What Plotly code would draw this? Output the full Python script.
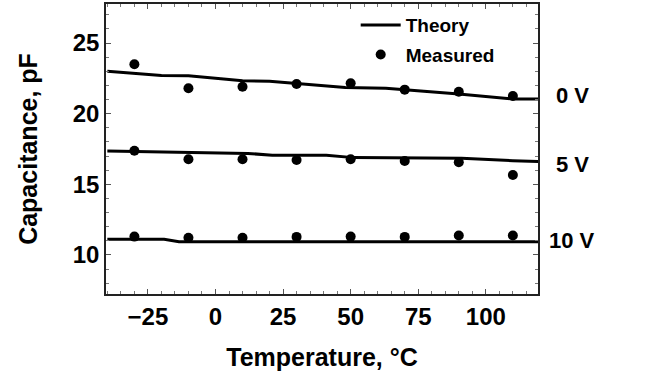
import plotly.graph_objects as go

# ---- data ----
temps_measured = [-30, -10, 10, 30, 50, 70, 90, 110]
meas_0v = [23.5, 21.8, 21.9, 22.1, 22.15, 21.7, 21.55, 21.25]
meas_5v = [17.38, 16.77, 16.77, 16.72, 16.77, 16.65, 16.56, 15.66]
meas_10v = [11.3, 11.22, 11.22, 11.28, 11.3, 11.28, 11.38, 11.38]

theory_x_0v = [-40, -20, -10, 10, 20, 48, 63, 90, 110, 120]
theory_0v = [23.0, 22.7, 22.68, 22.33, 22.3, 21.86, 21.8, 21.4, 21.04, 21.04]
theory_x_5v = [-40, -10, 12, 21, 41, 51, 91, 110, 120]
theory_5v = [17.36, 17.24, 17.19, 17.05, 17.05, 16.89, 16.84, 16.67, 16.62]
theory_x_10v = [-40, -19, -13.5, 120]
theory_10v = [11.11, 11.11, 10.94, 10.94]

bias_labels = ["0 V", "5 V", "10 V"]
bias_label_y = [21.32, 16.37, 11.06]

x_ticks = [-25, 0, 25, 50, 75, 100]
x_ticktext = ["\u221225", "0", "25", "50", "75", "100"]
y_ticks = [10, 15, 20, 25]

FONT = "Liberation Sans, Arial, sans-serif"

fig = go.Figure()
theories = [(theory_x_0v, theory_0v), (theory_x_5v, theory_5v), (theory_x_10v, theory_10v)]
for i, (tx, ty) in enumerate(theories):
    fig.add_trace(go.Scatter(
        x=tx, y=ty, mode="lines", name="Theory",
        line=dict(color="black", width=3),
        showlegend=(i == 0), legendgroup="theory",
    ))
for i, my in enumerate([meas_0v, meas_5v, meas_10v]):
    fig.add_trace(go.Scatter(
        x=temps_measured, y=my, mode="markers", name="Measured",
        marker=dict(color="black", size=10),
        showlegend=(i == 0), legendgroup="meas",
    ))

for txt, yv in zip(bias_labels, bias_label_y):
    fig.add_annotation(
        x=1.079, xref="paper", y=yv, yref="y", text=txt, showarrow=False,
        xanchor="center", yanchor="middle",
        font=dict(family=FONT, size=22, color="black", weight="bold"),
    )

axis_common = dict(
    showline=True, linecolor="#222", linewidth=1.5, mirror="ticks",
    ticks="inside", ticklen=5, tickwidth=1, tickcolor="#555",
    showgrid=False, zeroline=False, automargin=False,
    tickfont=dict(family=FONT, size=24, color="black", weight="bold"),
)

fig.update_xaxes(
    range=[-40.5, 119.3], tickvals=x_ticks, ticktext=x_ticktext,
    title=dict(text="Temperature, \u00b0C", standoff=20,
               font=dict(family=FONT, size=25, color="black", weight="bold")),
    minor=dict(dtick=5, tick0=0, ticks="inside", ticklen=3, tickcolor="#777", showgrid=False),
    **axis_common,
)
fig.update_yaxes(
    range=[7.24, 27.76], tickvals=y_ticks,
    title=dict(text="Capacitance, pF", standoff=28,
               font=dict(family=FONT, size=25, color="black", weight="bold")),
    minor=dict(dtick=1, tick0=0, ticks="inside", ticklen=3, tickcolor="#777", showgrid=False),
    **axis_common,
)

fig.update_layout(
    template="plotly_white",
    width=668, height=375,
    margin=dict(l=106, r=130, t=4, b=81, autoexpand=False),
    plot_bgcolor="white", paper_bgcolor="white",
    legend=dict(
        x=0.578, y=0.993, xanchor="left", yanchor="top",
        bgcolor="rgba(0,0,0,0)", itemwidth=40, tracegroupgap=2,
        font=dict(family=FONT, size=19, color="black", weight="bold"),
    ),
)

fig.write_html(
    "out.html",
    config={"displayModeBar": False},
    post_script="document.body.style.margin='0';document.body.style.padding='0';",
)
